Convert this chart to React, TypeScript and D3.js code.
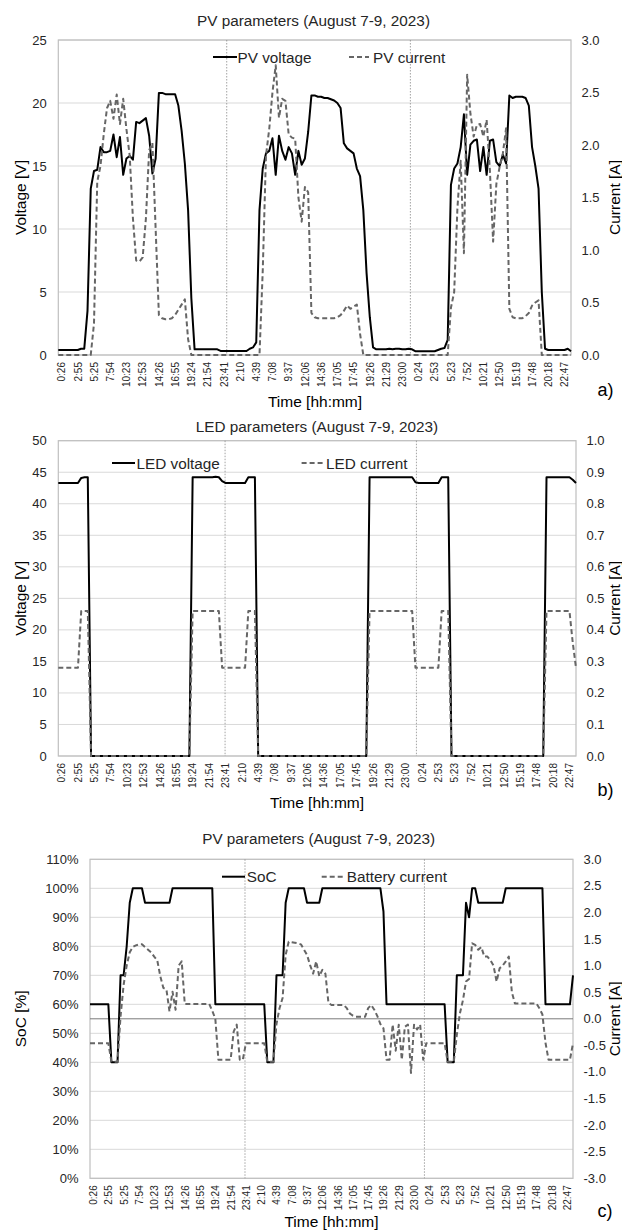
import React, { useEffect, useRef } from "react";
import * as d3 from "d3";

// ---------- DATA ----------
// category labels (every 5th sample, ~30 min sampling)
const timeLabels = [
  "0:26", "2:55", "5:25", "7:54", "10:23", "12:53", "14:26", "16:55", "19:24", "21:54",
  "23:41", "2:10", "4:39", "7:08", "9:37", "12:06", "14:36", "17:05", "17:45", "19:26",
  "21:29", "23:00", "0:24", "2:53", "5:23", "7:52", "10:21", "12:50", "15:19", "17:48",
  "20:18", "22:47",
];
const labelStep = 5;

// a) PV parameters
const pvVoltage = [
  0.4, 0.4, 0.4, 0.4, 0.4, 0.4, 0.4, 0.5, 0.5, 3.5,
  13.2, 14.6, 14.7, 16.5, 16.1, 16.1, 16.2, 17.5, 15.7, 17.3,
  14.3, 15.6, 15.8, 15.5, 18.5, 18.4, 18.6, 18.8, 17.4, 14.4,
  15.6, 20.8, 20.8, 20.7, 20.7, 20.7, 20.7, 19.8, 17.8, 15.2,
  11.5, 4.5, 0.45, 0.45, 0.45, 0.45, 0.45, 0.45, 0.45, 0.45,
  0.32, 0.32, 0.32, 0.32, 0.32, 0.32, 0.32, 0.32, 0.32, 0.5,
  0.6, 1.0, 11.5, 14.8, 16.0, 16.2, 17.2, 14.3, 17.4, 16.2,
  15.5, 16.5, 16.0, 14.3, 16.2, 15.1, 15.6, 17.7, 20.6, 20.6,
  20.5, 20.5, 20.4, 20.4, 20.3, 20.2, 20.0, 19.6, 16.8, 16.4,
  16.2, 16.0, 14.8, 14.2, 11.5, 6.5, 3.0, 0.6, 0.45, 0.45,
  0.45, 0.45, 0.5, 0.45, 0.5, 0.5, 0.45, 0.45, 0.5, 0.45,
  0.3, 0.3, 0.3, 0.3, 0.3, 0.3, 0.3, 0.4, 0.5, 0.55,
  1.2, 13.5, 14.8, 15.2, 16.5, 19.1, 14.3, 16.7, 17.0, 17.1,
  14.6, 16.5, 14.3, 17.0, 17.1, 15.3, 15.0, 15.9, 15.2, 20.6,
  20.4, 20.5, 20.5, 20.5, 20.4, 19.8, 16.5, 15.0, 13.2, 5.0,
  0.5, 0.4, 0.4, 0.4, 0.4, 0.4, 0.4, 0.5, 0.3,
];
const pvCurrent = [
  0, 0, 0, 0, 0, 0, 0, 0, 0, 0,
  0, 0.3, 1.65, 1.8, 2.1, 2.35, 2.42, 2.25, 2.48, 2.2,
  2.44, 2.15, 1.9, 1.3, 0.9, 0.89, 0.93, 1.3, 1.95, 2.02,
  1.2, 0.38, 0.35, 0.34, 0.34, 0.35, 0.38, 0.43, 0.48, 0.53,
  0.15, 0, 0, 0, 0, 0, 0, 0, 0, 0,
  0, 0, 0, 0, 0, 0, 0, 0, 0, 0,
  0, 0, 0, 0.8, 1.9, 2.15, 2.5, 2.76, 2.26, 2.44,
  2.42, 2.1, 2.07, 2.06, 1.5, 1.27, 1.6, 1.55, 0.4, 0.36,
  0.35, 0.35, 0.35, 0.35, 0.35, 0.35, 0.36, 0.38, 0.42, 0.47,
  0.44, 0.46, 0.48, 0.2, 0, 0, 0, 0, 0, 0,
  0, 0, 0, 0, 0, 0, 0, 0, 0, 0,
  0, 0, 0, 0, 0, 0, 0, 0, 0, 0,
  0, 0.45, 0.6, 1.4, 1.85, 0.97, 2.67, 2.3, 2.08, 2.19,
  2.2, 2.08, 2.24, 1.76, 1.08, 1.63, 1.79, 1.92, 2.16, 0.44,
  0.36, 0.35, 0.35, 0.35, 0.37, 0.4, 0.47, 0.5, 0.52, 0,
  0, 0, 0, 0, 0, 0, 0, 0, 0,
];
const pvVoltageTicks = [0, 5, 10, 15, 20, 25];
const pvCurrentTicks = [0, 0.5, 1.0, 1.5, 2.0, 2.5, 3.0];
const pvMidnight = [51.9, 108.5];

// b) LED parameters
const ledVoltage = [
  43.3, 43.3, 43.3, 43.3, 43.3, 43.3, 43.3, 44.1, 44.2, 44.2,
  0, 0, 0, 0, 0, 0, 0, 0, 0, 0,
  0, 0, 0, 0, 0, 0, 0, 0, 0, 0,
  0, 0, 0, 0, 0, 0, 0, 0, 0, 0,
  0, 44.2, 44.2, 44.2, 44.2, 44.2, 44.2, 44.2, 44.3, 44.2,
  43.6, 43.3, 43.3, 43.3, 43.3, 43.3, 43.3, 43.3, 44.2, 44.2,
  44.2, 0, 0, 0, 0, 0, 0, 0, 0, 0,
  0, 0, 0, 0, 0, 0, 0, 0, 0, 0,
  0, 0, 0, 0, 0, 0, 0, 0, 0, 0,
  0, 0, 0, 0, 0, 44.2, 44.2, 44.2, 44.2, 44.2,
  44.2, 44.2, 44.2, 44.2, 44.2, 44.2, 44.2, 44.2, 44.2, 43.4,
  43.3, 43.3, 43.3, 43.3, 43.3, 43.3, 43.3, 44.2, 44.2, 44.2,
  0, 0, 0, 0, 0, 0, 0, 0, 0, 0,
  0, 0, 0, 0, 0, 0, 0, 0, 0, 0,
  0, 0, 0, 0, 0, 0, 0, 0, 0, 44.2,
  44.2, 44.2, 44.2, 44.2, 44.2, 44.2, 44.2, 43.8, 43.3,
];
const ledCurrent = [
  0.28, 0.28, 0.28, 0.28, 0.28, 0.28, 0.28, 0.46, 0.46, 0.46,
  0, 0, 0, 0, 0, 0, 0, 0, 0, 0,
  0, 0, 0, 0, 0, 0, 0, 0, 0, 0,
  0, 0, 0, 0, 0, 0, 0, 0, 0, 0,
  0, 0.46, 0.46, 0.46, 0.46, 0.46, 0.46, 0.46, 0.46, 0.46,
  0.28, 0.28, 0.28, 0.28, 0.28, 0.28, 0.28, 0.28, 0.46, 0.46,
  0.46, 0, 0, 0, 0, 0, 0, 0, 0, 0,
  0, 0, 0, 0, 0, 0, 0, 0, 0, 0,
  0, 0, 0, 0, 0, 0, 0, 0, 0, 0,
  0, 0, 0, 0, 0, 0.46, 0.46, 0.46, 0.46, 0.46,
  0.46, 0.46, 0.46, 0.46, 0.46, 0.46, 0.46, 0.46, 0.46, 0.28,
  0.28, 0.28, 0.28, 0.28, 0.28, 0.28, 0.28, 0.46, 0.46, 0.46,
  0, 0, 0, 0, 0, 0, 0, 0, 0, 0,
  0, 0, 0, 0, 0, 0, 0, 0, 0, 0,
  0, 0, 0, 0, 0, 0, 0, 0, 0, 0.46,
  0.46, 0.46, 0.46, 0.46, 0.46, 0.46, 0.46, 0.36, 0.28,
];
const ledVoltageTicks = [0, 5, 10, 15, 20, 25, 30, 35, 40, 45, 50];
const ledCurrentTicks = [0, 0.1, 0.2, 0.3, 0.4, 0.5, 0.6, 0.7, 0.8, 0.9, 1.0];
const ledMidnight = [50.9, 109.3];

// c) SoC and battery current
const soc = [
  0.6, 0.6, 0.6, 0.6, 0.6, 0.6, 0.6, 0.4, 0.4, 0.4,
  0.7, 0.7, 0.8, 0.95, 1.0, 1.0, 1.0, 1.0, 0.95, 0.95,
  0.95, 0.95, 0.95, 0.95, 0.95, 0.95, 0.95, 1.0, 1.0, 1.0,
  1.0, 1.0, 1.0, 1.0, 1.0, 1.0, 1.0, 1.0, 1.0, 1.0,
  1.0, 0.6, 0.6, 0.6, 0.6, 0.6, 0.6, 0.6, 0.6, 0.6,
  0.6, 0.6, 0.6, 0.6, 0.6, 0.6, 0.6, 0.6, 0.4, 0.4,
  0.4, 0.7, 0.7, 0.7, 0.95, 1.0, 1.0, 1.0, 1.0, 1.0,
  1.0, 0.95, 0.95, 0.95, 0.95, 0.95, 1.0, 1.0, 1.0, 1.0,
  1.0, 1.0, 1.0, 1.0, 1.0, 1.0, 1.0, 1.0, 1.0, 1.0,
  1.0, 1.0, 1.0, 1.0, 1.0, 1.0, 0.92, 0.6, 0.6, 0.6,
  0.6, 0.6, 0.6, 0.6, 0.6, 0.6, 0.6, 0.6, 0.6, 0.6,
  0.6, 0.6, 0.6, 0.6, 0.6, 0.6, 0.6, 0.4, 0.4, 0.4,
  0.7, 0.7, 0.7, 0.95, 0.9, 1.0, 1.0, 0.95, 0.95, 0.95,
  0.95, 0.95, 0.95, 0.95, 0.95, 0.95, 1.0, 1.0, 1.0, 1.0,
  1.0, 1.0, 1.0, 1.0, 1.0, 1.0, 1.0, 1.0, 1.0, 0.6,
  0.6, 0.6, 0.6, 0.6, 0.6, 0.6, 0.6, 0.6, 0.7,
];
const batteryCurrent = [
  -0.46, -0.46, -0.46, -0.46, -0.46, -0.46, -0.46, -0.8, -0.81, -0.81,
  0.05, 0.64, 1.0, 1.25, 1.35, 1.38, 1.4, 1.4, 1.35, 1.3,
  1.25, 1.17, 1.1, 0.8, 0.58, 0.55, 0.14, 0.51, 0.17, 1.0,
  1.08, 0.28, 0.28, 0.28, 0.28, 0.28, 0.28, 0.28, 0.28, 0.28,
  0.15, 0.0, -0.77, -0.77, -0.77, -0.77, -0.77, -0.24, -0.11, -0.77,
  -0.77, -0.46, -0.46, -0.46, -0.46, -0.46, -0.46, -0.46, -0.81, -0.81,
  -0.81, -0.1, 0.2, 0.39, 1.2, 1.45, 1.44, 1.43, 1.42, 1.4,
  1.3, 1.2, 1.01, 0.85, 1.08, 0.8, 0.92, 0.85, 0.3, 0.26,
  0.26, 0.26, 0.26, 0.26, 0.2, 0.1, 0.06, 0.04, 0.04, 0.04,
  0.04, 0.2, 0.26, 0.17, 0.05, -0.1, -0.18, -0.77, -0.77, -0.11,
  -0.6, -0.11, -0.77, -0.15, -0.11, -1.02, -0.11, -0.2, -0.11, -0.77,
  -0.46, -0.46, -0.46, -0.46, -0.46, -0.46, -0.46, -0.81, -0.81, -0.81,
  -0.3, 0.1, 0.35, 0.7, 0.75, 1.42, 1.39, 1.3, 1.35, 1.17,
  1.17, 1.1, 1.0, 0.7, 0.95, 1.0, 1.08, 1.17, 0.5, 0.29,
  0.29, 0.29, 0.29, 0.29, 0.29, 0.29, 0.29, 0.2, 0.08, -0.45,
  -0.77, -0.77, -0.77, -0.77, -0.77, -0.77, -0.77, -0.77, -0.46,
];
const socTicks = [0, 0.1, 0.2, 0.3, 0.4, 0.5, 0.6, 0.7, 0.8, 0.9, 1.0, 1.1];
const batteryTicks = [-3, -2.5, -2, -1.5, -1, -0.5, 0, 0.5, 1, 1.5, 2, 2.5, 3];
const socMidnight = [50.7, 109.4];

// ---------- DRAWING ----------
const W = 622;
const H = 1232;
const FONT = "'Liberation Sans', Arial, Helvetica, sans-serif";
const TEXT = "#262626";
const DASH_COLOR = "#666666";

type Series = { values: number[]; axis: "left" | "right"; dashed: boolean };
type LegendItem = { x1: number; x2: number; tx: number; label: string; dashed: boolean };
type ChartCfg = {
  left: number; right: number; top: number; bottom: number;
  title: string; titleX: number; titleY: number;
  leftTicks: number[]; rightTicks: number[];
  leftFmt: (v: number) => string; rightFmt: (v: number) => string;
  leftTitle: string; rightTitle: string;
  series: Series[];
  legendY: number; legend: LegendItem[];
  midnights: number[];
  zeroLine: boolean;
  timeX: number; timeY: number;
  letter: string; letterX: number; letterY: number;
  xLabelSize: number;
};

function drawChart(svg: d3.Selection<SVGSVGElement, unknown, null, undefined>, c: ChartCfg) {
  const g = svg.append("g").attr("font-family", FONT);
  const n = c.series[0].values.length;
  const x = d3.scaleLinear().domain([0, n - 1]).range([c.left, c.right]);
  const yL = d3.scaleLinear()
    .domain([c.leftTicks[0], c.leftTicks[c.leftTicks.length - 1]])
    .range([c.bottom, c.top]);
  const yR = d3.scaleLinear()
    .domain([c.rightTicks[0], c.rightTicks[c.rightTicks.length - 1]])
    .range([c.bottom, c.top]);

  // gridlines
  g.append("g").selectAll("line").data(c.leftTicks).join("line")
    .attr("x1", c.left).attr("x2", c.right)
    .attr("y1", (d) => yL(d)).attr("y2", (d) => yL(d))
    .attr("stroke", "#d9d9d9").attr("stroke-width", 1);

  // plot border
  g.append("rect")
    .attr("x", c.left).attr("y", c.top)
    .attr("width", c.right - c.left).attr("height", c.bottom - c.top)
    .attr("fill", "none").attr("stroke", "#bfbfbf").attr("stroke-width", 1.2);

  // zero line of the secondary axis
  if (c.zeroLine) {
    g.append("line")
      .attr("x1", c.left).attr("x2", c.right)
      .attr("y1", yR(0)).attr("y2", yR(0))
      .attr("stroke", "#7a7a7a").attr("stroke-width", 1);
  }

  // midnight separators
  g.append("g").selectAll("line").data(c.midnights).join("line")
    .attr("x1", (d) => x(d)).attr("x2", (d) => x(d))
    .attr("y1", c.top).attr("y2", c.bottom)
    .attr("stroke", "#8c8c8c").attr("stroke-width", 0.8)
    .attr("stroke-dasharray", "1.5,1.5");

  // series
  c.series.forEach((s) => {
    const ys = s.axis === "left" ? yL : yR;
    const line = d3.line<number>().x((_, i) => x(i)).y((v) => ys(v));
    g.append("path").datum(s.values)
      .attr("d", line)
      .attr("fill", "none")
      .attr("stroke", s.dashed ? DASH_COLOR : "#000")
      .attr("stroke-width", 2)
      .attr("stroke-linejoin", "round")
      .attr("stroke-dasharray", s.dashed ? "5,3" : null);
  });

  // left tick labels
  g.append("g").selectAll("text").data(c.leftTicks).join("text")
    .attr("x", c.left - 11.5).attr("y", (d) => yL(d))
    .attr("text-anchor", "end").attr("dominant-baseline", "central")
    .attr("font-size", 13).attr("fill", TEXT)
    .text((d) => c.leftFmt(d));

  // right tick labels
  g.append("g").selectAll("text").data(c.rightTicks).join("text")
    .attr("x", c.right + 10.5).attr("y", (d) => yR(d))
    .attr("text-anchor", "start").attr("dominant-baseline", "central")
    .attr("font-size", 13).attr("fill", TEXT)
    .text((d) => c.rightFmt(d));

  // category labels
  g.append("g").selectAll("text").data(timeLabels).join("text")
    .attr("transform", (_, i) => `translate(${x(i * labelStep) + 3.5},${c.bottom + 7}) rotate(-90)`)
    .attr("text-anchor", "end").attr("dominant-baseline", "central")
    .attr("font-size", c.xLabelSize).attr("fill", TEXT)
    .text((d) => d);

  // title
  g.append("text").attr("x", c.titleX).attr("y", c.titleY)
    .attr("text-anchor", "middle").attr("dominant-baseline", "central")
    .attr("font-size", 15.3).attr("fill", TEXT).text(c.title);

  // axis titles
  const midY = (c.top + c.bottom) / 2;
  g.append("text")
    .attr("transform", `translate(20,${midY}) rotate(-90)`)
    .attr("text-anchor", "middle").attr("dominant-baseline", "central")
    .attr("font-size", 15.5).attr("fill", "#000").text(c.leftTitle);
  g.append("text")
    .attr("transform", `translate(614,${midY}) rotate(-90)`)
    .attr("text-anchor", "middle").attr("dominant-baseline", "central")
    .attr("font-size", 15.5).attr("fill", "#000").text(c.rightTitle);
  g.append("text").attr("x", c.timeX).attr("y", c.timeY)
    .attr("text-anchor", "middle").attr("dominant-baseline", "central")
    .attr("font-size", 15.5).attr("fill", "#000").text("Time [hh:mm]");
  g.append("text").attr("x", c.letterX).attr("y", c.letterY)
    .attr("text-anchor", "start").attr("dominant-baseline", "central")
    .attr("font-size", 18).attr("fill", "#000").text(c.letter);

  // legend
  c.legend.forEach((it) => {
    g.append("line")
      .attr("x1", it.x1).attr("x2", it.x2)
      .attr("y1", c.legendY).attr("y2", c.legendY)
      .attr("stroke", it.dashed ? DASH_COLOR : "#000")
      .attr("stroke-width", 2)
      .attr("stroke-dasharray", it.dashed ? "5,3" : null);
    g.append("text").attr("x", it.tx).attr("y", c.legendY)
      .attr("dominant-baseline", "central")
      .attr("font-size", 15.3).attr("fill", TEXT).text(it.label);
  });
}

const intFmt = (v: number) => String(v);
const oneDec = (v: number) => v.toFixed(1);
const pctFmt = (v: number) => `${Math.round(v * 100)}%`;

const charts: ChartCfg[] = [
  {
    left: 58.3, right: 571, top: 40, bottom: 355,
    title: "PV parameters (August 7-9, 2023)", titleX: 313.5, titleY: 20,
    leftTicks: pvVoltageTicks, rightTicks: pvCurrentTicks,
    leftFmt: intFmt, rightFmt: oneDec,
    leftTitle: "Voltage [V]", rightTitle: "Current [A]",
    series: [
      { values: pvVoltage, axis: "left", dashed: false },
      { values: pvCurrent, axis: "right", dashed: true },
    ],
    legendY: 57,
    legend: [
      { x1: 213, x2: 237, tx: 237.5, label: "PV voltage", dashed: false },
      { x1: 349, x2: 369, tx: 373, label: "PV current", dashed: true },
    ],
    midnights: pvMidnight, zeroLine: false,
    timeX: 315, timeY: 401.7,
    letter: "a)", letterX: 597.5, letterY: 390,
    xLabelSize: 10,
  },
  {
    left: 58.3, right: 576, top: 440.7, bottom: 756,
    title: "LED parameters (August 7-9, 2023)", titleX: 317, titleY: 426.7,
    leftTicks: ledVoltageTicks, rightTicks: ledCurrentTicks,
    leftFmt: intFmt, rightFmt: oneDec,
    leftTitle: "Voltage [V]", rightTitle: "Current [A]",
    series: [
      { values: ledVoltage, axis: "left", dashed: false },
      { values: ledCurrent, axis: "right", dashed: true },
    ],
    legendY: 463,
    legend: [
      { x1: 112, x2: 135, tx: 136.5, label: "LED voltage", dashed: false },
      { x1: 301.6, x2: 323.4, tx: 326, label: "LED current", dashed: true },
    ],
    midnights: ledMidnight, zeroLine: false,
    timeX: 317, timeY: 802,
    letter: "b)", letterX: 597.5, letterY: 790,
    xLabelSize: 10,
  },
  {
    left: 90, right: 573, top: 859.3, bottom: 1178.3,
    title: "PV parameters (August 7-9, 2023)", titleX: 318.7, titleY: 838.3,
    leftTicks: socTicks, rightTicks: batteryTicks,
    leftFmt: pctFmt, rightFmt: oneDec,
    leftTitle: "SoC [%]", rightTitle: "Current [A]",
    series: [
      { values: soc, axis: "left", dashed: false },
      { values: batteryCurrent, axis: "right", dashed: true },
    ],
    legendY: 876.7,
    legend: [
      { x1: 222, x2: 245, tx: 246.7, label: "SoC", dashed: false },
      { x1: 321.7, x2: 343, tx: 346.7, label: "Battery current", dashed: true },
    ],
    midnights: socMidnight, zeroLine: true,
    timeX: 331.5, timeY: 1221.7,
    letter: "c)", letterX: 597.5, letterY: 1211,
    xLabelSize: 10,
  },
];

export default function App() {
  const ref = useRef<SVGSVGElement>(null);
  useEffect(() => {
    if (!ref.current) return;
    const svg = d3.select(ref.current);
    svg.selectAll("*").remove();
    svg.append("rect").attr("width", W).attr("height", H).attr("fill", "#fff");
    charts.forEach((c) => drawChart(svg, c));
  }, []);
  return (
    <svg
      ref={ref}
      width={W}
      height={H}
      style={{ position: "absolute", left: 0, top: 0, display: "block", background: "#fff" }}
    />
  );
}
